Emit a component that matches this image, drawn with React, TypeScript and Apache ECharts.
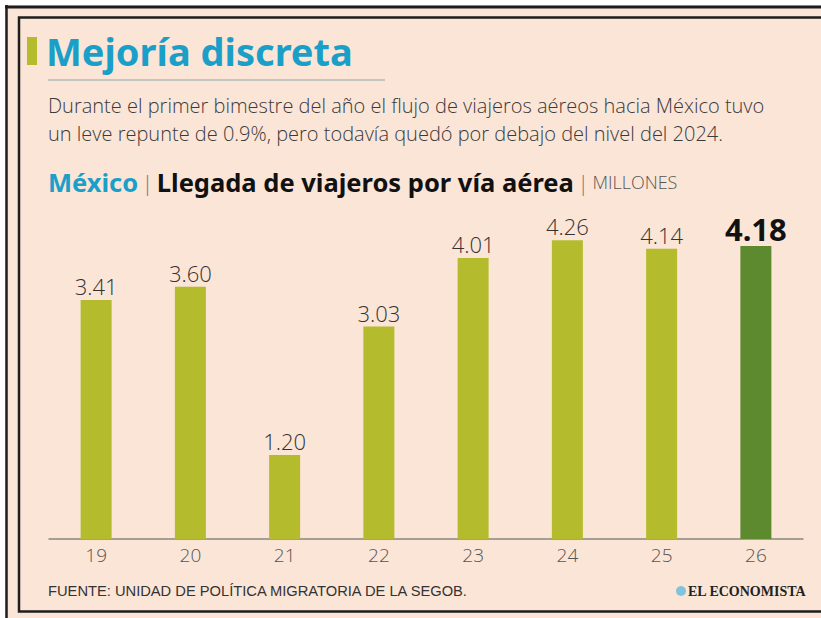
import React, { useEffect, useRef } from "react";
import * as echarts from "echarts";

const categories = ["19", "20", "21", "22", "23", "24", "25", "26"];
const values = [3.41, 3.6, 1.2, 3.03, 4.01, 4.26, 4.14, 4.18];

const titleText = "Mejoría discreta";
const subtitleLines = [
  "Durante el primer bimestre del año el flujo de viajeros aéreos hacia México tuvo",
  "un leve repunte de 0.9%, pero todavía quedó por debajo del nivel del 2024.",
];
const sourceText = "FUENTE: UNIDAD DE POLÍTICA MIGRATORIA DE LA SEGOB.";
const logoText = "EL ECONOMISTA";

const BEIGE = "#fbe5d7";
const TEAL = "#1a9fc8";
const LIGHT = "#b4bc2e";
const DARK = "#5d8a2f";

export default function App() {
  const ref = useRef<HTMLDivElement>(null);
  useEffect(() => {
    if (!ref.current) return;
    const chart = echarts.init(ref.current, undefined, { renderer: "svg" });
    const last = values.length - 1;
    chart.setOption({
      animation: false,
      backgroundColor: "#ffffff",
      grid: { left: 49, right: 18, top: 188.5, bottom: 79, containLabel: false },
      xAxis: {
        type: "category",
        data: categories,
        axisLine: { show: true, lineStyle: { color: "#8a8580", width: 1.5 } },
        axisTick: { show: false },
        axisLabel: {
          color: "#555",
          fontSize: 19,
          fontFamily: "Open Sans",
          fontWeight: 300,
          margin: 6,
        },
      },
      yAxis: {
        type: "value",
        min: 0,
        max: 5,
        show: false,
        splitLine: { show: false },
      },
      graphic: [
        { type: "rect", z: -10, silent: true, shape: { x: 5, y: 5, width: 830, height: 630 }, style: { fill: BEIGE } },
        { type: "line", z: 10, shape: { x1: 5, y1: 7, x2: 830, y2: 7 }, style: { stroke: "#1e1e1e", lineWidth: 3 } },
        { type: "line", z: 10, shape: { x1: 6.5, y1: 5, x2: 6.5, y2: 630 }, style: { stroke: "#1e1e1e", lineWidth: 2.5 } },
        { type: "rect", z: 10, shape: { x: 19, y: 17.5, width: 820, height: 594 }, style: { fill: "none", stroke: "#1e1e1e", lineWidth: 2.5 } },
        { type: "rect", shape: { x: 27, y: 37, width: 10, height: 28 }, style: { fill: LIGHT } },
        {
          type: "text",
          x: 46,
          y: 51,
          style: {
            text: titleText,
            fill: TEAL,
            font: "bold 38px 'Noto Sans'",
            textVerticalAlign: "middle",
          },
        },
        { type: "line", shape: { x1: 48, y1: 80, x2: 385, y2: 80 }, style: { stroke: "#8fa7b0", lineWidth: 1 } },
        {
          type: "text",
          x: 48,
          y: 105,
          style: {
            text: subtitleLines[0],
            fill: "#3a3a3a",
            font: "300 20px 'Open Sans'",
            textVerticalAlign: "middle",
          },
        },
        {
          type: "text",
          x: 48,
          y: 133,
          style: {
            text: subtitleLines[1],
            fill: "#3a3a3a",
            font: "300 20px 'Open Sans'",
            textVerticalAlign: "middle",
          },
        },
        {
          type: "text",
          x: 48,
          y: 182,
          style: {
            text: "{a|México} {s||} {b|Llegada de viajeros por vía aérea} {s||} {c|MILLONES}",
            textVerticalAlign: "middle",
            rich: {
              a: { fill: TEAL, font: "bold 25.5px 'Noto Sans'" },
              s: { fill: "#777", font: "300 22px 'Open Sans'" },
              b: { fill: "#111", font: "bold 25.5px 'Noto Sans'" },
              c: { fill: "#555", font: "300 18px 'Open Sans'" },
            },
          },
        },
        {
          type: "text",
          x: 48,
          y: 591,
          style: {
            text: sourceText,
            fill: "#333",
            font: "14.7px 'Liberation Sans'",
            textVerticalAlign: "middle",
          },
        },
        { type: "circle", shape: { cx: 681, cy: 591, r: 5 }, style: { fill: "#7fc3dc" } },
        {
          type: "text",
          x: 688,
          y: 591,
          style: {
            text: logoText,
            fill: "#222",
            font: "bold 14px 'Liberation Serif'",
            textVerticalAlign: "middle",
          },
        },
      ],
      series: [
        {
          type: "bar",
          barWidth: 31,
          data: values.map((v, i) =>
            i === last
              ? {
                  value: v,
                  itemStyle: { color: DARK },
                  label: { fontSize: 31, fontWeight: "bold", color: "#111", fontFamily: "Noto Sans", distance: 1 },
                }
              : { value: v }
          ),
          itemStyle: { color: LIGHT },
          label: {
            show: true,
            position: "top",
            distance: 3,
            formatter: (p: any) => Number(p.value).toFixed(2),
            color: "#333",
            fontSize: 22,
            fontWeight: 300,
            fontFamily: "Open Sans",
          },
        },
      ],
    });
    return () => chart.dispose();
  }, []);
  return (
    <div style={{ position: "absolute", left: 0, top: 0, width: 821, height: 618 }}>
      <div ref={ref} style={{ width: 821, height: 618 }} />
    </div>
  );
}
